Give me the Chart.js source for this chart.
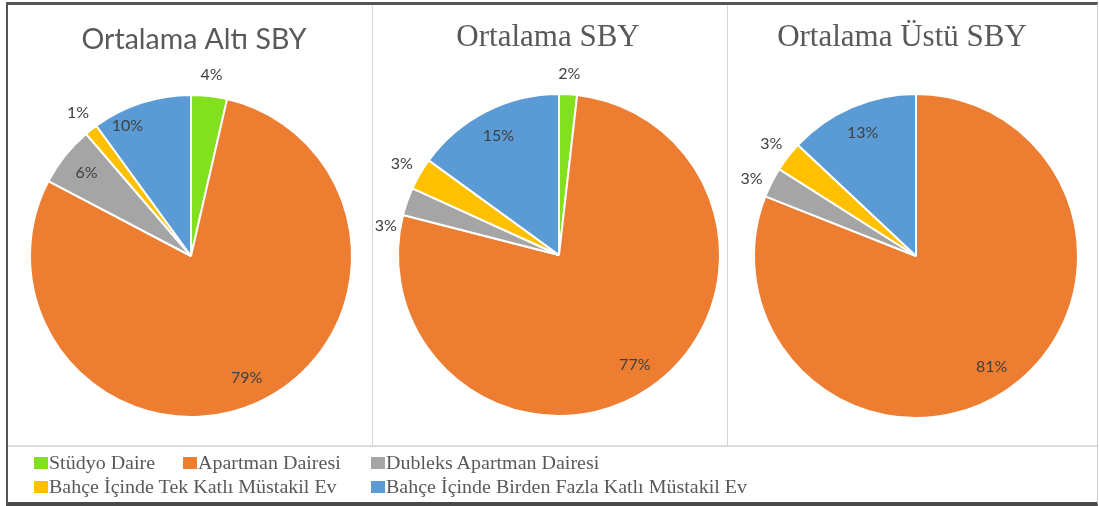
<!DOCTYPE html>
<html><head><meta charset="utf-8">
<script src="https://cdn.jsdelivr.net/npm/chart.js@4.4.1/dist/chart.umd.min.js"></script>
<style>
html,body{margin:0;padding:0;background:#fff;}
#wrap{position:relative;width:1099px;height:506px;overflow:hidden;background:#fff;}
canvas{position:absolute;}
.frame{position:absolute;left:6px;top:2px;width:1092px;height:504px;box-sizing:border-box;border-left:2px solid #555;border-top:3px solid #555;border-bottom:4px solid #4a4a4a;border-right:1px solid #d0d0d0;}
.vline{position:absolute;top:5px;width:1px;height:441px;background:#d6d6d6;}
.hline{position:absolute;left:8px;top:445px;width:1089px;height:2px;background:#dcdcdc;}
.lbox{position:absolute;width:14px;height:12px;}
.ltxt{position:absolute;font:20px "Liberation Serif","Times New Roman",serif;line-height:20px;color:#595959;transform:scaleY(0.9);transform-origin:0 16.75px;white-space:nowrap;}
</style></head>
<body>
<div id="wrap">
  <canvas id="c1" width="364" height="441" style="left:8px;top:5px;"></canvas>
  <canvas id="c2" width="354" height="441" style="left:373px;top:5px;"></canvas>
  <canvas id="c3" width="368" height="441" style="left:728px;top:5px;"></canvas>
  <div class="vline" style="left:372px"></div>
  <div class="vline" style="left:727px"></div>
  <div class="hline"></div>
  <div class="frame"></div>
  <div id="legend"></div>
</div>
<script>
const categories = ["Stüdyo Daire", "Apartman Dairesi", "Dubleks Apartman Dairesi", "Bahçe İçinde Tek Katlı Müstakil Ev", "Bahçe İçinde Birden Fazla Katlı Müstakil Ev"];
const chartTitles = ["Ortalama Altı SBY", "Ortalama SBY", "Ortalama Üstü SBY"];
const altiValues = [3.6, 79.1, 6.0, 1.3, 10.0];
const ortaValues = [1.8, 77.2, 2.8, 3.2, 15.0];
const ustuValues = [0, 81, 3, 3, 13];
const colors = ["#82E01F", "#ED7D31", "#A5A5A5", "#FFC000", "#5B9BD5"];

function makeTextPlugin(cfg){
  return {
    id: 'pieText',
    afterDatasetsDraw(chart){
      const ctx = chart.ctx;
      const meta = chart.getDatasetMeta(0);
      const data = chart.data.datasets[0].data;
      const total = data.reduce((a,b)=>a+b,0);
      ctx.save();
      ctx.font = '16px Lato';
      ctx.fillStyle = '#404040';
      ctx.textAlign = 'center';
      ctx.textBaseline = 'middle';
      meta.data.forEach((arc,i)=>{
        const v = data[i];
        if(!v) return;
        const p = arc.getProps(['x','y','startAngle','endAngle','outerRadius'], true);
        const pct = v/total*100;
        let mid = (p.startAngle + p.endAngle)/2;
        let f = pct < 5 ? 1.13 : 0.83;
        const n = cfg.nudges[i];
        if(n){ mid += n[0]*Math.PI/180; f = n[1]; }
        ctx.fillText(Math.round(pct) + '%', p.x + Math.cos(mid)*p.outerRadius*f, p.y + Math.sin(mid)*p.outerRadius*f);
      });
      ctx.font = cfg.titleFont;
      ctx.fillStyle = '#595959';
      ctx.textBaseline = 'alphabetic';
      ctx.fillText(cfg.title, cfg.titleX, cfg.titleY);
      ctx.restore();
    }
  };
}

function makePie(id, values, pad, textCfg){
  return new Chart(document.getElementById(id), {
    type: 'pie',
    data: {
      labels: categories,
      datasets: [{ data: values, backgroundColor: colors, borderColor: '#ffffff', borderWidth: 2 }]
    },
    options: {
      responsive: false,
      animation: false,
      devicePixelRatio: 1,
      layout: { padding: pad },
      plugins: { legend: { display: false }, title: { display: false }, tooltip: { enabled: false } }
    },
    plugins: [makeTextPlugin(textCfg)]
  });
}

makePie('c1', altiValues, {left:21, top:89, right:19, bottom:28},
  {title: chartTitles[0], titleFont: '28.5px Lato', titleX: 186, titleY: 44, nudges: {4: [-8, 0.9]}});
makePie('c2', ortaValues, {left:24, top:88, right:6, bottom:29},
  {title: chartTitles[1], titleFont: '31px "Liberation Serif"', titleX: 175, titleY: 41, nudges: {2: [-10, 1.09]}});
makePie('c3', ustuValues, {left:25, top:88, right:17, bottom:27},
  {title: chartTitles[2], titleFont: '31px "Liberation Serif"', titleX: 174, titleY: 41, nudges: {2: [-2, 1.12]}});

// HTML legend built from categories and colors
const legendPos = [[34,457,452],[183,457,452],[371,457,452],[34,481,476],[371,481,476]];
const lg = document.getElementById('legend');
categories.forEach((c,i)=>{
  const [x,by,ty] = legendPos[i];
  const b = document.createElement('div');
  b.className = 'lbox'; b.style.left = x+'px'; b.style.top = by+'px'; b.style.background = colors[i];
  lg.appendChild(b);
  const t = document.createElement('div');
  t.className = 'ltxt'; t.textContent = c; t.style.left = (x+15)+'px'; t.style.top = ty+'px';
  lg.appendChild(t);
});
</script>
</body></html>
